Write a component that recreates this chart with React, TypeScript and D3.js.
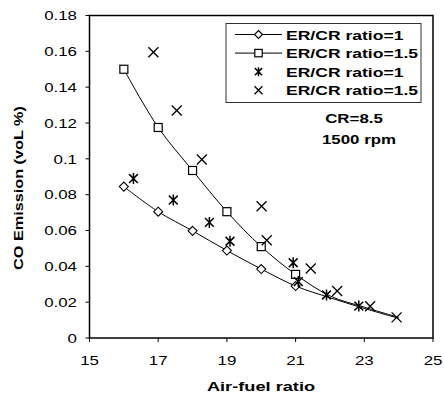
import React from "react";
import * as d3 from "d3";

const afrModel = [16, 17, 18, 19, 20, 21, 22, 23, 24];
const coRatio1Model = [0.0845, 0.0705, 0.0598, 0.0488, 0.0385, 0.029, 0.0225, 0.0165, 0.011];
const coRatio15Model = [0.15, 0.1175, 0.0935, 0.0705, 0.051, 0.0355, 0.0235, 0.0172, 0.0115];
const markerCount = 6;

const afrExp1 = [16.28, 17.44, 18.49, 19.09, 20.93, 21.08, 21.9, 22.84];
const coExp1 = [0.089, 0.077, 0.0645, 0.054, 0.042, 0.0315, 0.024, 0.0178];
const afrExp15 = [16.86, 17.54, 18.27, 20.01, 20.16, 21.44, 22.21, 23.17, 23.94];
const coExp15 = [0.1595, 0.127, 0.0996, 0.0735, 0.0546, 0.0388, 0.0262, 0.0177, 0.0115];

const xTicks = [15, 17, 19, 21, 23, 25];
const yTicks = [0, 0.02, 0.04, 0.06, 0.08, 0.1, 0.12, 0.14, 0.16, 0.18];
const legendLabels = ["ER/CR ratio=1", "ER/CR ratio=1.5", "ER/CR ratio=1", "ER/CR ratio=1.5"];

const W = 444, H = 394;
const FONT = "'Liberation Sans', Arial, sans-serif";

function SText({ x, y, children, size = 13, bold = false, anchor = "start", sx = 1.25, rotate = 0 }: any) {
  return (
    <text
      transform={`translate(${x},${y}) rotate(${rotate}) scale(${sx},1)`}
      fontFamily={FONT}
      fontSize={size}
      fontWeight={bold ? "bold" : "normal"}
      textAnchor={anchor}
      fill="#000"
    >
      {children}
    </text>
  );
}

function Diamond({ x, y, r = 4.5 }: any) {
  return <path d={`M${x},${y - r}L${x + r},${y}L${x},${y + r}L${x - r},${y}Z`} fill="#fff" stroke="#000" strokeWidth={1.1} />;
}
function Square({ x, y, r = 4 }: any) {
  return <rect x={x - r} y={y - r} width={2 * r} height={2 * r} fill="#fff" stroke="#000" strokeWidth={1.2} />;
}
function Star({ x, y, r = 5.5 }: any) {
  const a = r * 0.8;
  return (
    <path
      d={`M${x - a},${y - a}L${x + a},${y + a}M${x - a},${y + a}L${x + a},${y - a}M${x},${y - r}L${x},${y + r}`}
      stroke="#000"
      strokeWidth={1.5}
      fill="none"
    />
  );
}
function Cross({ x, y, r = 5 }: any) {
  return (
    <path d={`M${x - r},${y - r}L${x + r},${y + r}M${x - r},${y + r}L${x + r},${y - r}`} stroke="#000" strokeWidth={1.3} fill="none" />
  );
}

export default function App() {
  const x = d3.scaleLinear().domain([15, 25]).range([89.5, 433]);
  const y = d3.scaleLinear().domain([0, 0.18]).range([338, 15.5]);

  const line = d3
    .line<[number, number]>()
    .x((d) => x(d[0]))
    .y((d) => y(d[1]))
    .curve(d3.curveCatmullRom.alpha(0.5));

  const s1 = afrModel.map((a, i) => [a, coRatio1Model[i]] as [number, number]);
  const s15 = afrModel.map((a, i) => [a, coRatio15Model[i]] as [number, number]);

  const [x0, x1] = x.range();
  const [yb, yt] = y.range();

  const legX = 226, legY = 23.5, legW = 195, legH = 79;
  const rowY = (i: number) => 34.5 + i * 18.6;

  return (
    <svg width={W} height={H} style={{ position: "absolute", left: 0, top: 0, background: "#fff" }}>
      <rect x={0} y={0} width={W} height={H} fill="#fff" />
      <rect x={x0} y={yt} width={x1 - x0} height={yb - yt} fill="none" stroke="#000" strokeWidth={1.5} />
      {yTicks.map((t) => (
        <g key={"y" + t}>
          <line x1={x0 - 4} x2={x0} y1={y(t)} y2={y(t)} stroke="#000" strokeWidth={1} />
          <SText x={77} y={y(t) + 4.7} anchor="end" size={13.5}>
            {d3.format("")(t)}
          </SText>
        </g>
      ))}
      {xTicks.map((t) => (
        <g key={"x" + t}>
          <line x1={x(t)} x2={x(t)} y1={yb} y2={yb + 4} stroke="#000" strokeWidth={1} />
          <SText x={x(t)} y={365} anchor="middle" size={13.5}>
            {t}
          </SText>
        </g>
      ))}
      <SText x={261} y={391} anchor="middle" size={13.5} bold sx={1.35}>
        Air-fuel ratio
      </SText>
      <SText x={23} y={188} anchor="middle" size={12.5} bold sx={1.3} rotate={-90}>
        CO Emission (voL %)
      </SText>

      <path d={line(s1) || ""} fill="none" stroke="#000" strokeWidth={1} />
      <path d={line(s15) || ""} fill="none" stroke="#000" strokeWidth={1} />
      {s1.slice(0, markerCount).map((d, i) => (
        <Diamond key={"d" + i} x={x(d[0])} y={y(d[1])} />
      ))}
      {s15.slice(0, markerCount).map((d, i) => (
        <Square key={"s" + i} x={x(d[0])} y={y(d[1])} />
      ))}
      {afrExp1.map((a, i) => (
        <Star key={"st" + i} x={x(a)} y={y(coExp1[i])} />
      ))}
      {afrExp15.map((a, i) => (
        <Cross key={"cx" + i} x={x(a)} y={y(coExp15[i])} />
      ))}

      <rect x={legX} y={legY} width={legW} height={legH} fill="#fff" stroke="#333" strokeWidth={1} />
      <line x1={235} x2={282} y1={rowY(0)} y2={rowY(0)} stroke="#000" strokeWidth={1} />
      <Diamond x={258.5} y={rowY(0)} r={4} />
      <line x1={235} x2={282} y1={rowY(1)} y2={rowY(1)} stroke="#000" strokeWidth={1} />
      <Square x={258.5} y={rowY(1)} r={3.7} />
      <Star x={258.5} y={rowY(2)} r={4.5} />
      <Cross x={258.5} y={rowY(3)} r={4} />
      {legendLabels.map((l, i) => (
        <SText key={"l" + i} x={286} y={rowY(i) + 5} size={13.5} bold sx={1.3}>
          {l}
        </SText>
      ))}

      <SText x={354} y={123} anchor="middle" size={13.5} bold sx={1.25}>
        CR=8.5
      </SText>
      <SText x={359} y={144} anchor="middle" size={13.5} bold sx={1.25}>
        1500 rpm
      </SText>
    </svg>
  );
}
